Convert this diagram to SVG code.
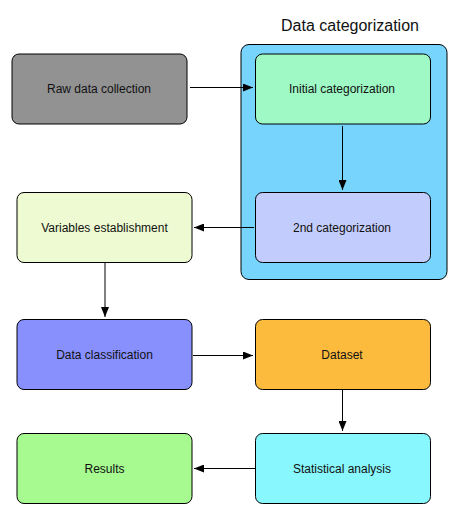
<svg xmlns="http://www.w3.org/2000/svg" width="459" height="515" viewBox="0 0 459 515">
<style>
.n{stroke:#000;stroke-width:1}
.t{font-family:"Liberation Sans",Arial,sans-serif;font-size:12px;fill:#111;text-anchor:middle;dominant-baseline:central}
.c{stroke:#000;stroke-width:1;fill:none;marker-end:url(#ah)}
</style>
<defs>
<marker id="ah" viewBox="0 0 10 8" refX="10" refY="4" markerWidth="10" markerHeight="8" markerUnits="userSpaceOnUse" orient="auto">
<path d="M0,0 L10,4 L0,8 Z" fill="#000"/>
</marker>
</defs>
<rect width="459" height="515" fill="#fff"/>
<g id="group-data-categorization">
<rect class="n" x="241" y="44.5" width="206" height="235" rx="8" fill="#77d5fd"/>
<text x="350" y="25" font-family="'Liberation Sans',Arial,sans-serif" font-size="16" fill="#111" text-anchor="middle" dominant-baseline="central">Data categorization</text>
</g>
<g id="raw-data-collection">
<rect class="n" x="12" y="54" width="175" height="70" rx="7" fill="#929292"/>
<text class="t" x="99" y="89">Raw data collection</text>
</g>
<g id="initial-categorization">
<rect class="n" x="255.5" y="54" width="175" height="70" rx="7" fill="#9ef9c5"/>
<text class="t" x="342" y="89">Initial categorization</text>
</g>
<g id="second-categorization">
<rect class="n" x="255.5" y="192.5" width="175" height="70" rx="7" fill="#c3cdfd"/>
<text class="t" x="342" y="228">2nd categorization</text>
</g>
<g id="variables-establishment">
<rect class="n" x="17" y="192.5" width="175" height="70" rx="7" fill="#eefbd2"/>
<text class="t" x="104.5" y="228">Variables establishment</text>
</g>
<g id="data-classification">
<rect class="n" x="17" y="319.5" width="175" height="70" rx="7" fill="#8890fe"/>
<text class="t" x="104.5" y="355">Data classification</text>
</g>
<g id="dataset">
<rect class="n" x="255.5" y="319.5" width="175" height="70" rx="7" fill="#fdbb3e"/>
<text class="t" x="342" y="355">Dataset</text>
</g>
<g id="results">
<rect class="n" x="17" y="433.5" width="175" height="70" rx="7" fill="#a6fa90"/>
<text class="t" x="104.5" y="469">Results</text>
</g>
<g id="statistical-analysis">
<rect class="n" x="255.5" y="433.5" width="175" height="70" rx="7" fill="#88f8fe"/>
<text class="t" x="342" y="469">Statistical analysis</text>
</g>
<g id="connectors">
<path class="c" d="M190,87.5 L253,87.5"/>
<path class="c" d="M342.5,126 L342.5,190"/>
<path class="c" d="M254,227.5 L194,227.5"/>
<path class="c" d="M105,263 L105,317"/>
<path class="c" d="M193,355.5 L253,355.5"/>
<path class="c" d="M342.5,390 L342.5,431"/>
<path class="c" d="M255,468.5 L194,468.5"/>
</g>
</svg>
